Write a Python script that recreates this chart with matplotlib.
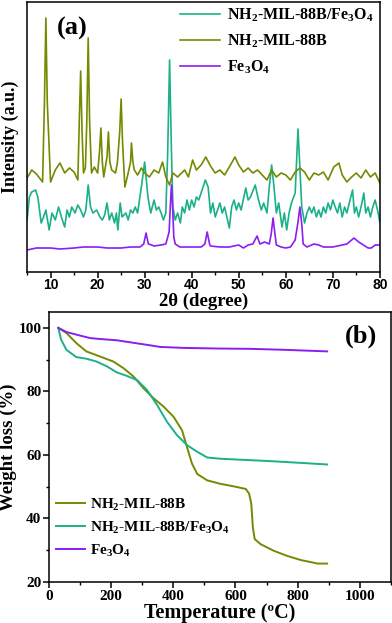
import matplotlib
matplotlib.use('Agg')
import numpy as np
import matplotlib.pyplot as plt
from matplotlib.ticker import MultipleLocator

plt.rcParams['font.family'] = 'Liberation Serif'
plt.rcParams['font.weight'] = 'bold'
plt.rcParams['mathtext.fontset'] = 'custom'
plt.rcParams['mathtext.rm'] = 'Liberation Serif:bold'
plt.rcParams['mathtext.it'] = 'Liberation Serif:bold'
plt.rcParams['mathtext.bf'] = 'Liberation Serif:bold'

TEAL = '#1bb088'
OLIVE = '#748a00'
PURPLE = '#8c1df5'

# ---- XRD (a) : 2theta and offset intensities (arb. units) ----
mil_tt = [5, 6, 7, 8.3, 8.7, 9, 9.3, 10, 11, 12, 13, 14, 15, 15.8, 16.1, 16.4, 16.7, 17, 17.4,
          17.7, 18, 18.3, 18.7, 19.3, 20, 20.4, 20.7, 21, 21.3, 22, 22.3, 22.6, 23, 23.8, 24.2, 24.7,
          25, 25.3, 25.8, 26.5, 27, 27.2, 27.5, 27.8, 28.5, 29.3, 30, 31, 32, 33, 33.8, 34.5, 35.3,
          36, 37, 38.5, 39.3, 40.2, 41, 42, 43, 44, 45, 46, 47, 48, 49.2, 50, 51, 52, 53, 54, 55,
          56, 57, 58, 59, 60, 61, 62, 63, 64, 65, 66, 67, 68, 69, 70.2, 71.3, 72, 73, 74, 75, 76,
          77, 78, 79, 80]
mil_i = [94, 102, 98, 90, 170, 254, 170, 90, 102, 109, 99, 104, 100, 92, 150, 201, 140, 99, 104,
         150, 234, 150, 99, 105, 99, 120, 144, 110, 95, 115, 140, 110, 102, 99, 109, 140,
         173, 130, 85, 99, 110, 129, 110, 102, 97, 104, 99, 95, 102, 99, 110, 95, 87,
         99, 95, 102, 95, 112, 102, 107, 115, 106, 99, 102, 97, 105, 115, 107, 100, 104, 99, 102, 97,
         92, 102, 95, 99, 97, 92, 100, 104, 100, 92, 99, 97, 100, 92, 105, 109, 97, 90, 95, 99, 94,
         102, 95, 99, 89]

comp_tt = [5, 5.5, 6, 6.8, 7.3, 8, 8.5, 9, 9.7, 10.3, 11, 11.7, 12.3, 13, 13.5, 14, 14.5, 15.2,
           15.8, 16.4, 17, 17.5, 18, 18.5, 19, 19.8, 20.5, 21, 21.5, 22, 22.5, 23, 23.6, 24, 24.3,
           24.8, 25.2, 26, 26.5, 27, 27.5, 28, 28.5, 29.3, 30, 30.7, 31.3, 32, 32.5, 33, 33.5, 34,
           34.5, 34.9, 35.3, 35.7, 36, 36.5, 37, 37.6, 38, 38.5, 39, 39.5, 40, 40.5, 41, 41.5, 42,
           42.9, 43.5, 44, 44.5, 45, 45.5, 46, 46.5, 47, 48, 48.5, 49, 49.5, 50, 50.5, 51.5, 52,
           52.5, 53.5, 54.2, 54.8, 55.3, 56, 56.5, 57, 57.5, 58, 58.5, 59.2, 59.7, 60.2, 60.7, 61.2,
           62, 62.6, 63.4, 64, 64.5, 65, 65.5, 66, 66.5, 67, 67.5, 68, 68.5, 69, 69.5, 70, 70.5, 71,
           71.5, 72, 72.5, 73, 73.5, 74.2, 74.6, 75, 75.5, 76, 76.6, 77, 77.5, 78, 78.5, 79, 79.5, 80]
comp_i = [52, 75, 80, 82, 75, 49, 55, 62, 42, 59, 52, 65, 55, 45, 62, 55, 65, 59,
          67, 62, 55, 62, 87, 65, 59, 62, 55, 52, 57, 69, 52, 59, 49, 59, 42,
          69, 55, 59, 52, 62, 59, 65, 59, 85, 110, 75, 59, 72, 62, 65, 59, 52,
          59, 120, 212, 120, 65, 52, 59, 49, 65, 59, 72, 62, 72, 65, 75, 72, 79,
          92, 85, 59, 69, 55, 62, 69, 59, 65, 44, 65, 72, 62, 69, 62, 84, 72,
          75, 87, 72, 62, 69, 59, 85, 107, 85, 59, 69, 45, 59, 42, 59, 69,
          79, 143, 65, 49, 59, 65, 59, 65, 55, 62, 55, 65, 59, 69, 62, 72, 65, 59,
          69, 55, 65, 59, 69, 82, 59, 65, 55, 65, 79, 59, 65, 55, 65, 72, 62, 50]

fe_tt = [5, 7, 10, 12, 15, 17, 20, 22, 25, 27, 29, 29.8, 30.3, 30.8, 31.5, 32, 33.5, 34.5, 35.2,
         35.5, 35.7, 35.9, 36.2, 36.5, 37.5, 40, 42, 42.8, 43.3, 43.8, 44, 46, 48, 50, 51, 52, 53,
         53.9, 54.5, 55.5, 56.5, 56.9, 57.3, 57.7, 58, 59, 60, 61, 62, 62.6, 63, 63.4, 63.7, 64.5,
         66, 67, 68, 70, 72, 73, 74.5, 75.5, 76.5, 77.5, 78.2, 79, 80]
fe_i = [22, 24, 24, 23, 24, 25, 25, 24, 24, 25, 25, 28, 39, 28, 27, 26, 27, 28, 40,
        70, 87, 70, 35, 28, 25, 25, 25, 28, 40, 28, 26, 25, 25, 27, 24, 27, 28,
        36, 28, 30, 28, 38, 54, 38, 27, 25, 24, 25, 32, 50, 65, 48, 28, 25,
        28, 27, 25, 25, 27, 28, 34, 30, 27, 24, 24, 27, 27]

# ---- TGA (b) ----
mil_T = [30, 56, 88, 120, 164, 207, 240, 272, 304, 337, 369, 401, 428, 444, 460, 477, 509, 552,
         595, 633, 644, 651, 656, 662, 681, 724, 767, 811, 865, 895]
mil_w = [100, 98.4, 95.2, 92.6, 91, 89.4, 87.3, 84.7, 81, 77.8, 75.2, 72, 67.8, 62.5, 57.3, 54,
         52, 50.9, 50.1, 49.3, 47.8, 44.6, 37.2, 33.5, 31.9, 29.8, 28.2, 26.9, 25.8, 25.8]
comp_T = [30, 39, 56, 88, 120, 153, 186, 218, 250, 283, 315, 348, 380, 412, 444, 477, 509, 552,
          595, 703, 811, 895]
comp_w = [100, 96.3, 93.1, 90.8, 90.3, 89.4, 87.9, 86, 84.9, 83.6, 80.5, 75.7, 70.4, 66.2, 63.1,
          61, 59.2, 58.8, 58.6, 58.1, 57.5, 57]
fe_T = [30, 56, 99, 132, 164, 218, 272, 326, 358, 434, 541, 649, 757, 895]
fe_w = [100, 98.7, 97.6, 96.8, 96.5, 96.1, 95.3, 94.5, 94, 93.7, 93.5, 93.4, 93.1, 92.6]

fig = plt.figure(figsize=(3.92, 6.23), dpi=100)

# ---------- panel (a) ----------
ax1 = fig.add_axes([0.069, 0.5634, 0.900, 0.4334])
ax1.plot(comp_tt, comp_i, color=TEAL, lw=1.2, label='NH$_2$-MIL-88B/Fe$_3$O$_4$')
ax1.plot(mil_tt, mil_i, color=OLIVE, lw=1.2, label='NH$_2$-MIL-88B')
ax1.plot(fe_tt, fe_i, color=PURPLE, lw=1.2, label='Fe$_3$O$_4$')
ax1.set_xlim(5, 80)
ax1.set_ylim(0, 270)
ax1.set_yticks([])
ax1.xaxis.set_minor_locator(MultipleLocator(5))
ax1.set_xticks(range(10, 81, 10))
ax1.set_xticklabels([str(v) for v in range(10, 81, 10)], family='Liberation Sans',
                    weight='bold', fontsize=10)
ax1.tick_params(axis='x', which='major', direction='out', length=4, width=1.1, pad=0.5)
ax1.tick_params(axis='x', which='minor', direction='out', length=2.5, width=1.0)
for s in ax1.spines.values():
    s.set_linewidth(1.1)
ax1.set_xlabel('2\u03b8 (degree)', fontsize=13.5, fontweight='bold')
ax1.xaxis.set_label_coords(0.5, -0.076)
ax1.set_ylabel('Intensity (a.u.)', fontsize=13, fontweight='bold')
ax1.yaxis.set_label_coords(-0.022, 0.5)
ax1.text(0.085, 0.878, '(a)', transform=ax1.transAxes, fontsize=19, fontweight='bold')
ax1.legend(loc='upper right', bbox_to_anchor=(1.015, 1.025), frameon=False, fontsize=11.5,
           handlelength=2.5, handletextpad=0.45, labelspacing=0.55, borderaxespad=0.3)

# ---------- panel (b) ----------
ax2 = fig.add_axes([0.125, 0.0658, 0.872, 0.4334])
ax2.plot(mil_T, mil_w, color=OLIVE, lw=1.4, label='NH$_2$-MIL-88B')
ax2.plot(comp_T, comp_w, color=TEAL, lw=1.4, label='NH$_2$-MIL-88B/Fe$_3$O$_4$')
ax2.plot(fe_T, fe_w, color=PURPLE, lw=1.4, label='Fe$_3$O$_4$')
ax2.set_xlim(0, 1100)
ax2.set_ylim(20, 105)
ax2.xaxis.set_major_locator(MultipleLocator(200))
ax2.xaxis.set_minor_locator(MultipleLocator(100))
ax2.yaxis.set_major_locator(MultipleLocator(20))
ax2.yaxis.set_minor_locator(MultipleLocator(10))
ax2.tick_params(which='major', direction='out', length=4, width=1.1, labelsize=11, pad=1.5)
ax2.tick_params(which='minor', direction='out', length=2.5, width=1.0)
for s in ax2.spines.values():
    s.set_linewidth(1.1)
ax2.set_xlabel('Temperature (\u00baC)', fontsize=14.5, fontweight='bold', labelpad=0)
ax2.set_ylabel('Weight loss (%)', fontsize=13.5, fontweight='bold')
ax2.yaxis.set_label_coords(-0.094, 0.5)
ax2.text(0.866, 0.885, '(b)', transform=ax2.transAxes, fontsize=19, fontweight='bold')
ax2.legend(loc='lower left', bbox_to_anchor=(-0.02, 0.035), frameon=False, fontsize=11,
           handlelength=1.9, handletextpad=0.35, labelspacing=0.45)

fig.savefig('out.png', dpi=100)
